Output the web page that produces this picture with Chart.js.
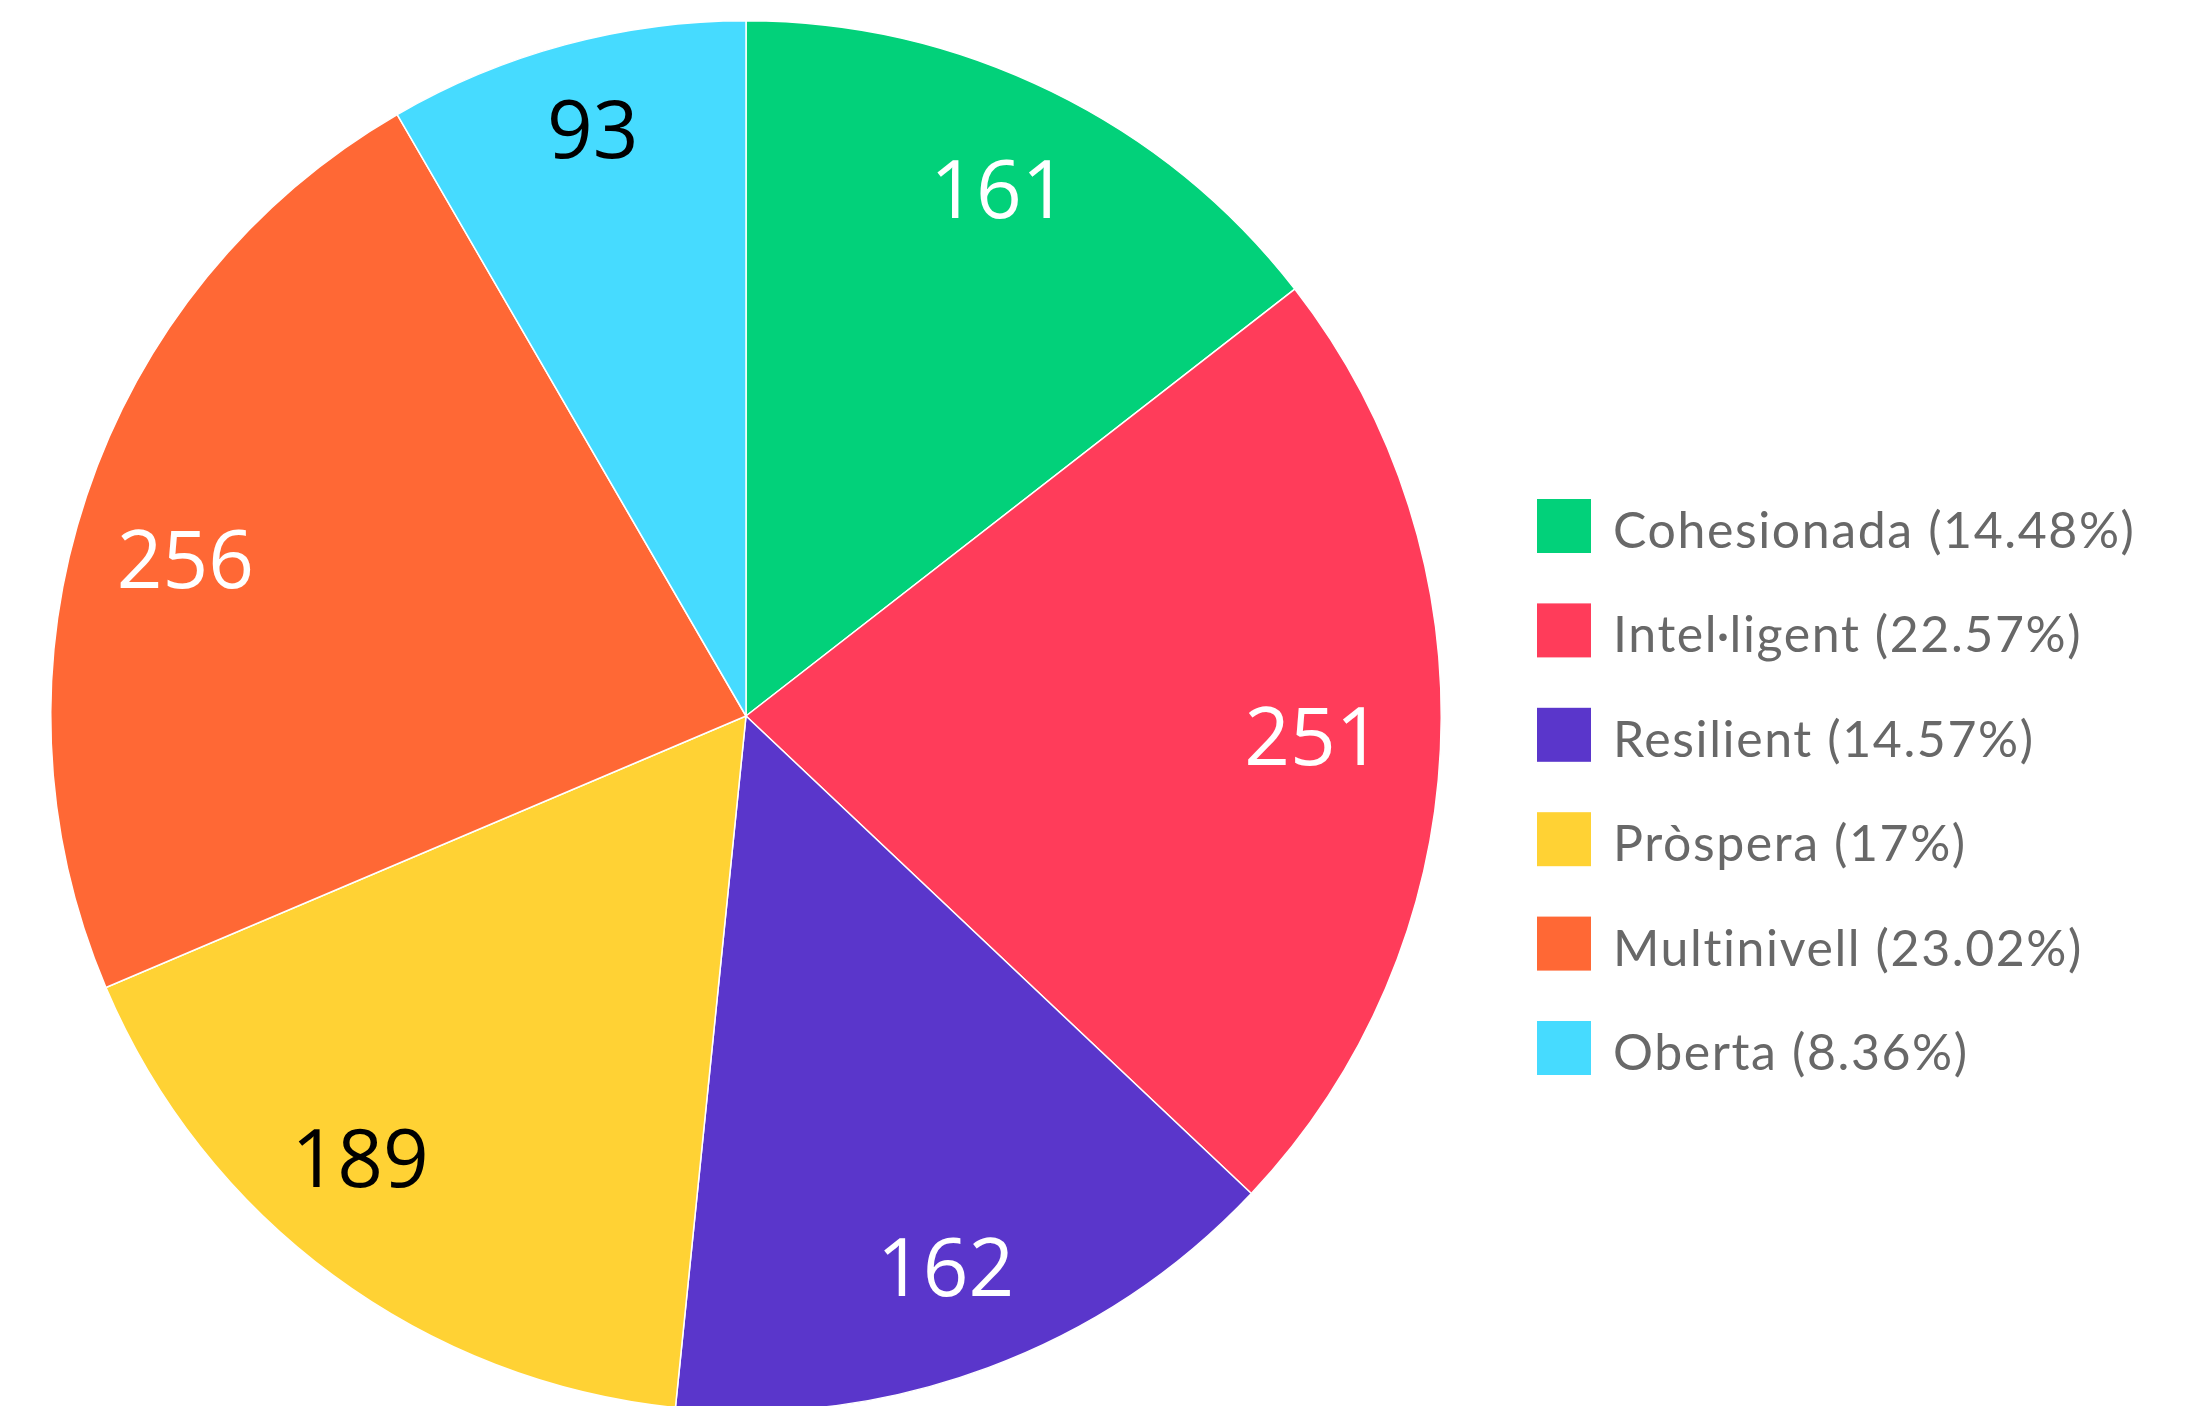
<!DOCTYPE html>
<html>
<head>
<meta charset="utf-8">
<script src="https://cdn.jsdelivr.net/npm/chart.js@4.4.1/dist/chart.umd.min.js"></script>
<style>
  html, body { margin: 0; padding: 0; background: #fff; overflow: hidden; }
  canvas { display: block; }
</style>
</head>
<body>
<canvas id="c" width="2188" height="1432" style="width:2188px;height:1432px"></canvas>
<script>
const categories = ["Cohesionada", "Intel·ligent", "Resilient", "Pròspera", "Multinivell", "Oberta"];
const values = [161, 251, 162, 189, 256, 93];
const colors = ["#02d17a", "#ff3c5a", "#5a36cb", "#ffd234", "#ff6835", "#46dbff"];
const labelColors = ["#ffffff", "#ffffff", "#ffffff", "#000000", "#ffffff", "#000000"];
// label placement inside each slice: angle shift (deg) from slice middle, fraction of radius
const labelAngleShift = [-0.4, -0.7, 0.5, 4.7, -2.9, 0.4];
const labelRadius = [0.840, 0.816, 0.844, 0.844, 0.837, 0.872];

const total = values.reduce((a, b) => a + b, 0);
const pct = v => parseFloat((v / total * 100).toFixed(2)).toString();

const sliceLabels = {
  id: 'sliceLabels',
  afterDatasetsDraw(chart) {
    const ctx = chart.ctx;
    const meta = chart.getDatasetMeta(0);
    ctx.save();
    ctx.font = '80px "Open Sans"';
    ctx.textAlign = 'center';
    ctx.textBaseline = 'alphabetic';
    meta.data.forEach((arc, i) => {
      const p = arc.getProps(['x', 'y', 'startAngle', 'endAngle', 'outerRadius'], true);
      const mid = (p.startAngle + p.endAngle) / 2 + labelAngleShift[i] * Math.PI / 180;
      const r = p.outerRadius * labelRadius[i];
      ctx.fillStyle = labelColors[i];
      ctx.fillText(String(values[i]), p.x + Math.cos(mid) * r, p.y + Math.sin(mid) * r + 28.5);
    });
    ctx.restore();
  }
};

const sideLegend = {
  id: 'sideLegend',
  afterDraw(chart) {
    const ctx = chart.ctx;
    ctx.save();
    ctx.font = '50px Lato';
    try { ctx.letterSpacing = '1.6px'; } catch (e) {}
    ctx.textAlign = 'left';
    ctx.textBaseline = 'alphabetic';
    const step = 104.4;
    categories.forEach((name, i) => {
      const top = 499 + i * step;
      ctx.fillStyle = colors[i];
      ctx.fillRect(1537, top, 54, 54);
      ctx.fillStyle = '#686868';
      ctx.fillText(name + ' (' + pct(values[i]) + '%)', 1613, top + 49);
    });
    ctx.restore();
  }
};

function draw() {
  new Chart(document.getElementById('c'), {
    type: 'pie',
    data: {
      labels: categories,
      datasets: [{
        data: values,
        backgroundColor: colors,
        borderColor: '#ffffff',
        borderWidth: 1.5
      }]
    },
    options: {
      responsive: false,
      animation: false,
      layout: { padding: { left: 50, right: 746, top: 20, bottom: 20 } },
      plugins: {
        legend: { display: false },
        tooltip: { enabled: false }
      }
    },
    plugins: [sliceLabels, sideLegend]
  });
}

Promise.all([
  document.fonts.load('80px "Open Sans"'),
  document.fonts.load('50px Lato')
]).then(draw, draw);
</script>
</body>
</html>
